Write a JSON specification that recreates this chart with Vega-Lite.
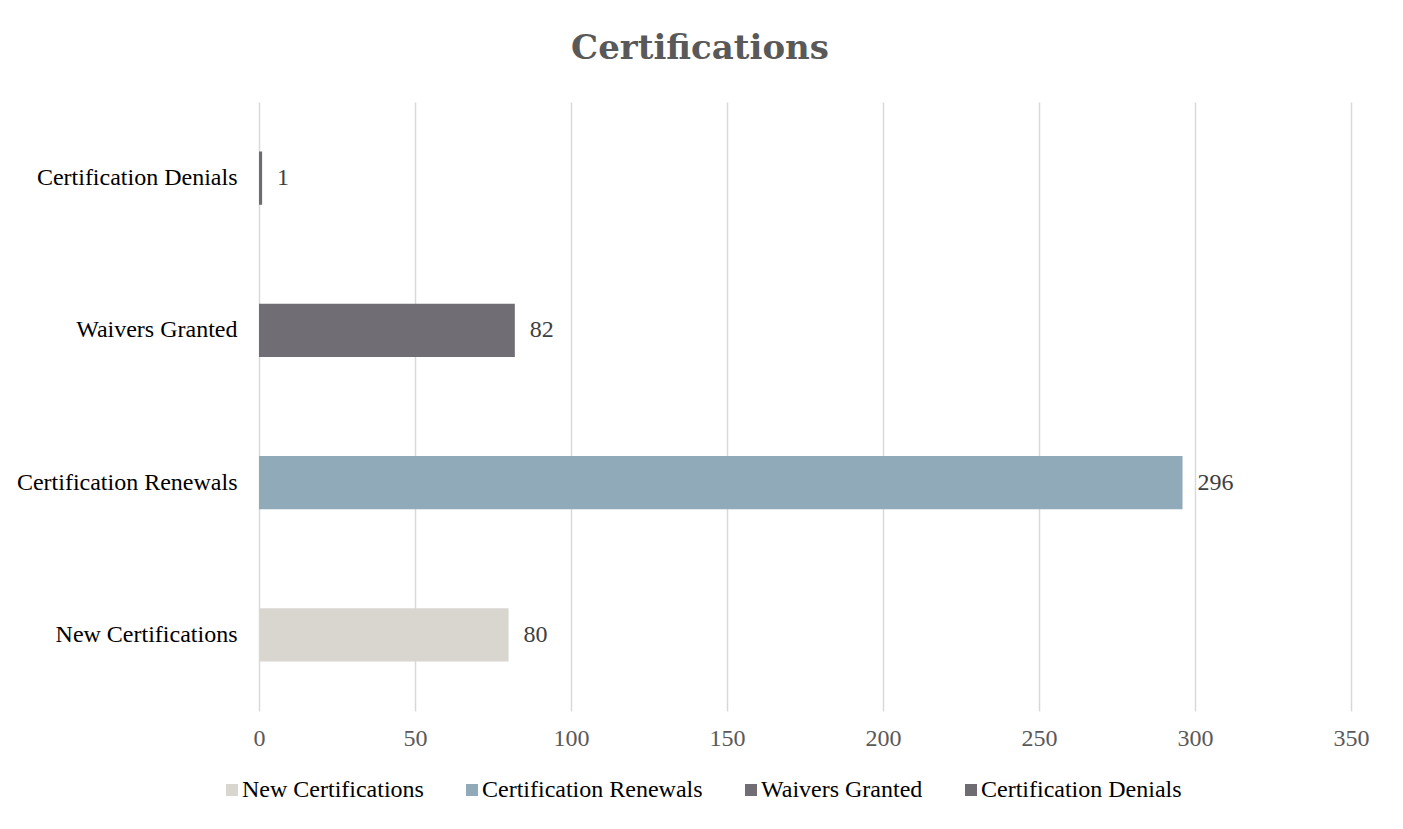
{
  "$schema": "https://vega.github.io/schema/vega-lite/v6.json",
  "autosize": "none",
  "width": 1092,
  "height": 609,
  "padding": {"left": 259, "top": 102, "right": 52, "bottom": 118},
  "background": "white",
  "title": {
    "text": "Certifications",
    "font": "DejaVu Serif",
    "fontSize": 34,
    "fontWeight": "bold",
    "color": "#595959",
    "anchor": "middle",
    "frame": "group",
    "dx": -105,
    "baseline": "alphabetic",
    "offset": 9
  },
  "config": {
    "view": {"stroke": null},
    "font": "Liberation Serif"
  },
  "data": {
    "values": [
      {"category": "New Certifications", "value": 80},
      {"category": "Certification Renewals", "value": 296},
      {"category": "Waivers Granted", "value": 82},
      {"category": "Certification Denials", "value": 1}
    ]
  },
  "encoding": {
    "y": {
      "field": "category",
      "type": "nominal",
      "sort": ["Certification Denials", "Waivers Granted", "Certification Renewals", "New Certifications"],
      "scale": {"paddingInner": 0.65, "paddingOuter": 0.325},
      "axis": {
        "title": null,
        "domain": false,
        "ticks": false,
        "grid": false,
        "labelFont": "Liberation Serif",
        "labelFontSize": 24,
        "labelColor": "#000000",
        "labelPadding": 22,
        "labelLimit": 400
      }
    },
    "x": {
      "field": "value",
      "type": "quantitative",
      "scale": {"domain": [0, 350], "nice": false},
      "axis": {
        "title": null,
        "domain": false,
        "ticks": false,
        "grid": true,
        "gridColor": "#d9d9d9",
        "gridWidth": 1.5,
        "values": [0, 50, 100, 150, 200, 250, 300, 350],
        "labelFlush": false,
        "labelFont": "Liberation Serif",
        "labelFontSize": 24,
        "labelColor": "#595959",
        "labelPadding": 15
      }
    }
  },
  "layer": [
    {
      "mark": {"type": "bar"},
      "encoding": {
        "color": {
          "field": "category",
          "type": "nominal",
          "scale": {
            "domain": ["New Certifications", "Certification Renewals", "Waivers Granted", "Certification Denials"],
            "range": ["#D9D6D0", "#91AABA", "#706E74", "#6E6C71"]
          },
          "legend": {
            "title": null,
            "orient": "none",
            "direction": "horizontal",
            "legendX": -39,
            "legendY": 676,
            "symbolType": "square",
            "symbolSize": 144,
            "symbolStrokeWidth": 0,
            "labelFont": "Liberation Serif",
            "labelFontSize": 24,
            "labelColor": "#000000",
            "labelOffset": -2,
            "columnPadding": 36,
            "labelLimit": 400
          }
        }
      }
    },
    {
      "mark": {"type": "text", "align": "left", "baseline": "middle", "dx": 15, "fontSize": 24, "font": "Liberation Serif", "color": "#404040"},
      "encoding": {
        "text": {"field": "value", "type": "quantitative"}
      }
    }
  ]
}
